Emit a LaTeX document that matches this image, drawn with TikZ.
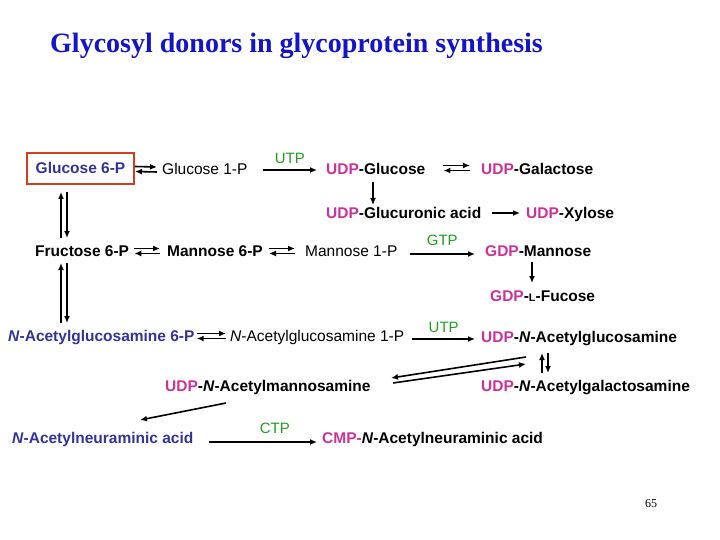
\documentclass[tikz,border=0pt]{standalone}
\usepackage{fontspec}
\setmainfont{Liberation Sans}
\newfontfamily\serifT{Liberation Serif}
\usetikzlibrary{arrows.meta,calc}
\definecolor{tblue}{HTML}{1414C8}
\definecolor{nblue}{HTML}{333399}
\definecolor{udpc}{HTML}{CC3399}
\definecolor{ntpc}{HTML}{22A022}
\definecolor{boxc}{HTML}{D0401C}
\newcommand\pk[1]{\textcolor{udpc}{#1}}
\newcommand\eqpair[5]{%
  \draw[arr] ($(#1.east)+(#3,#5-2.5)$) -- ($(#2.west)+(-#4,#5-2.5)$);
  \draw[arr] ($(#2.west)+(-#4,#5+2.5)$) -- ($(#1.east)+(#3,#5+2.5)$);}
\begin{document}
\begin{tikzpicture}[x=1pt,y=-1pt,
  lbl/.style={anchor=west,inner sep=0pt,text height=11pt,text depth=0pt,
    font=\fontsize{15.5}{18}\selectfont\bfseries},
  lblr/.style={lbl,font=\fontsize{15.5}{18}\selectfont},
  arr/.style={line width=1.6pt,-{Latex[length=7pt,width=6pt]}},
  ntp/.style={inner sep=0pt,text height=11pt,text depth=0pt,
    font=\fontsize{15}{18}\selectfont,text=ntpc}]
\useasboundingbox[fill=white] (0,0) rectangle (720,540);

\node[anchor=base west,inner sep=0pt,text=tblue,font=\serifT\bfseries\fontsize{28}{32}\selectfont] (title) at (50,53) {Glycosyl donors in glycoprotein synthesis};

% row 1
\node[inner sep=0pt,outer sep=0pt,text height=11pt,text depth=0pt,minimum width=107pt,minimum height=31pt,
  draw=boxc,line width=2pt,text=nblue,font=\fontsize{15.5}{18}\selectfont\bfseries] (g6p) at (80.5,168.5) {Glucose 6-P};
\node[lblr] (g1p) at (162,169) {Glucose 1-P};
\node[lbl] (udpglc) at (326,169) {\pk{UDP}-Glucose};
\node[lbl] (udpgal) at (481,169) {\pk{UDP}-Galactose};
\node[lbl] (udpglcA) at (326,213) {\pk{UDP}-Glucuronic acid};
\node[lbl] (udpxyl) at (526,213) {\pk{UDP}-Xylose};
% row 3
\node[lbl] (f6p) at (35,251) {Fructose 6-P};
\node[lbl] (m6p) at (167,251) {Mannose 6-P};
\node[lblr] (m1p) at (305,251) {Mannose 1-P};
\node[lbl] (gdpman) at (485,251) {\pk{GDP}-Mannose};
\node[lbl] (gdpfuc) at (490,296) {\pk{GDP}-{\fontsize{11}{12}\selectfont L}-Fucose};
% row 4
\node[lbl,text=nblue] (glcnac6p) at (8,336) {\textit{N}-Acetylglucosamine 6-P};
\node[lblr] (glcnac1p) at (230,336) {\textit{N}-Acetylglucosamine 1-P};
\node[lbl] (udpglcnac) at (481,337) {\pk{UDP}-\textit{N}-Acetylglucosamine};
\node[lbl] (udpgalnac) at (481,386) {\pk{UDP}-\textit{N}-Acetylgalactosamine};
\node[lbl] (udpmannac) at (165,386) {\pk{UDP}-\textit{N}-Acetylmannosamine};
\node[lbl,text=nblue] (neu5ac) at (12,438) {\textit{N}-Acetylneuraminic acid};
\node[lbl] (cmpneu) at (322,438) {\pk{CMP-}\textit{N}-Acetylneuraminic acid};

\node[inner sep=0pt,font=\serifT\fontsize{12}{14}\selectfont] (page) at (651,504) {65};

% horizontal equilibria
\eqpair{g6p}{g1p}{1}{5}{0.5}
\eqpair{udpglc}{udpgal}{18}{11}{-1}
\eqpair{f6p}{m6p}{5}{7}{0}
\eqpair{m6p}{m1p}{6}{10}{0}
\eqpair{glcnac6p}{glcnac1p}{2}{4}{0}

% forward arrows with nucleotide labels
\draw[arr] ($(g1p.east)+(15,1)$) -- node[ntp,above=6pt] (utp1) {UTP} ($(udpglc.west)+(-9,1)$);
\draw[arr] ($(m1p.east)+(12,3)$) -- node[ntp,above=8pt] (gtp) {GTP} ($(gdpman.west)+(-10,3)$);
\draw[arr] ($(glcnac1p.east)+(8,3)$) -- node[ntp,above=6pt] (utp2) {UTP} ($(udpglcnac.west)+(-6,2)$);
\draw[arr] ($(neu5ac.east)+(15,4)$) -- node[ntp,above=8pt,xshift=12pt] (ctp) {CTP} ($(cmpneu.west)+(-5,4)$);
\draw[arr] ($(udpglcA.east)+(11,0)$) -- ($(udpxyl.west)+(-6,0)$);

% vertical arrows
\draw[arr] ($(udpglc.west)+(47,13)$) -- ($(udpglcA.west)+(47,-8)$);
\draw[arr] ($(gdpman.west)+(47,11)$) -- ($(gdpfuc.west)+(42,-13)$);
\draw[arr] ($(f6p.west)+(26,-13)$) -- ($(g6p.south west)+(34,8)$);
\draw[arr] ($(g6p.south west)+(40,8)$) -- ($(f6p.west)+(32,-13)$);
\draw[arr] ($(glcnac6p.west)+(53,-13)$) -- ($(f6p.west)+(26,12)$);
\draw[arr] ($(f6p.west)+(32,12)$) -- ($(glcnac6p.west)+(59,-13)$);
\draw[arr] ($(udpgalnac.west)+(61,-13)$) -- ($(udpglcnac.west)+(61,16)$);
\draw[arr] ($(udpglcnac.west)+(67,16)$) -- ($(udpgalnac.west)+(67,-13)$);

% diagonal arrows
\draw[arr] ($(udpgalnac.west)+(45,-29)$) -- ($(udpmannac.west)+(226,-8)$);
\draw[arr] ($(udpmannac.west)+(228,-3)$) -- ($(udpgalnac.west)+(45,-22)$);
\draw[arr] ($(udpmannac.west)+(61,17)$) -- ($(neu5ac.west)+(128,-18)$);
\end{tikzpicture}
\end{document}
